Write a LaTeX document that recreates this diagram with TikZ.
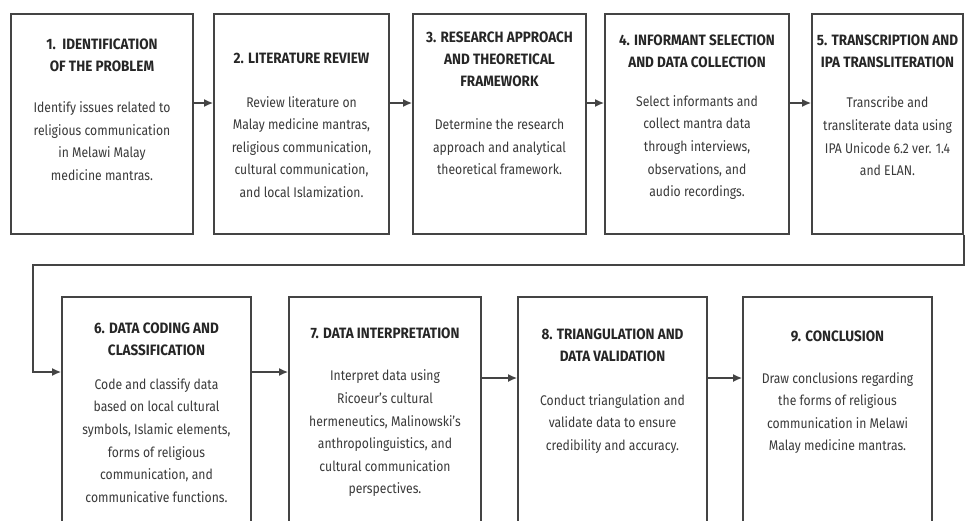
\documentclass[tikz,border=0pt]{standalone}
\usepackage{fontspec}
\setmainfont{Fira Sans}[FakeStretch=0.87]
\newfontfamily\headfont{Fira Sans}[FakeStretch=0.9]
\usetikzlibrary{arrows.meta,calc}
\definecolor{linec}{HTML}{444444}
\definecolor{txtc}{HTML}{3A3A3A}
\definecolor{headc}{HTML}{262626}
\tikzset{
  box/.style={draw=linec, line width=1.6pt, fill=white, inner sep=0pt},
  head/.style={align=center, text=headc, font=\headfont\bfseries\fontsize{15}{22}\selectfont, inner sep=0pt},
  body/.style={align=center, text=txtc, font=\fontsize{14}{22.6}\selectfont, inner sep=0pt},
  arr/.style={draw=linec, line width=1.8pt, -{Latex[length=9pt,width=8pt]}}
}
\begin{document}
\begin{tikzpicture}[x=1pt,y=-1pt]
\useasboundingbox (0,0) rectangle (969,520);
\clip (0,0) rectangle (969,520);
\fill[white] (0,0) rectangle (969,520);
% row 1 boxes
\node[box, minimum width=182pt, minimum height=220pt] (b1) at (102,124) {};
\node[box, minimum width=175pt, minimum height=220pt] (b2) at (301.5,124) {};
\node[box, minimum width=173pt, minimum height=220pt] (b3) at (499.5,124) {};
\node[box, minimum width=184pt, minimum height=220pt] (b4) at (697,124) {};
\node[box, minimum width=151pt, minimum height=220pt] (b5) at (887.5,124) {};
% row 2 boxes
\node[box, minimum width=189pt, minimum height=243pt] (b6) at (156.5,418.5) {};
\node[box, minimum width=192pt, minimum height=243pt] (b7) at (385,418.5) {};
\node[box, minimum width=189pt, minimum height=243pt] (b8) at (612.5,418.5) {};
\node[box, minimum width=189pt, minimum height=243pt] (b9) at (837.5,418.5) {};
% texts
\node[head] (h1) at (102,55.5) {1.\ \ IDENTIFICATION\\OF THE PROBLEM};
\node[body] (d1) at (102,141) {Identify issues related to\\religious communication\\in Melawi Malay\\medicine mantras.};
\node[head] (h2) at (301.5,58) {2. LITERATURE REVIEW};
\node[body] (d2) at (301.5,147) {Review literature on\\Malay medicine mantras,\\religious communication,\\cultural communication,\\and local Islamization.};
\node[head] (h3) at (499.5,59.5) {3. RESEARCH APPROACH\\AND THEORETICAL\\FRAMEWORK};
\node[body] (d3) at (499.5,147) {Determine the research\\approach and analytical\\theoretical framework.};
\node[head] (h4) at (697,51.5) {4. INFORMANT SELECTION\\AND DATA COLLECTION};
\node[body] (d4) at (697,147.5) {Select informants and\\collect mantra data\\through interviews,\\observations, and\\audio recordings.};
\node[head] (h5) at (887.5,51.5) {5. TRANSCRIPTION AND\\IPA TRANSLITERATION};
\node[body] (d5) at (887.5,136.5) {Transcribe and\\transliterate data using\\IPA Unicode 6.2 ver. 1.4\\and ELAN.};
\node[head] (h6) at (156.5,339) {6. DATA CODING AND\\CLASSIFICATION};
\node[body] (d6) at (156.5,440.5) {Code and classify data\\based on local cultural\\symbols, Islamic elements,\\forms of religious\\communication, and\\communicative functions.};
\node[head] (h7) at (385,333) {7. DATA INTERPRETATION};
\node[body] (d7) at (385,433.5) {Interpret data using\\Ricoeur's cultural\\hermeneutics, Malinowski's\\anthropolinguistics, and\\cultural communication\\perspectives.};
\node[head] (h8) at (612.5,345) {8. TRIANGULATION AND\\DATA VALIDATION};
\node[body] (d8) at (612.5,424) {Conduct triangulation and\\validate data to ensure\\credibility and accuracy.};
\node[head] (h9) at (837.5,336) {9. CONCLUSION};
\node[body] (d9) at (837.5,413) {Draw conclusions regarding\\the forms of religious\\communication in Melawi\\Malay medicine mantras.};
% connectors
\draw[arr] ([yshift=21pt]b1.east) -- ([yshift=21pt]b2.west);
\draw[arr] ([yshift=21pt]b2.east) -- ([yshift=21pt]b3.west);
\draw[arr] ([yshift=21pt]b3.east) -- ([yshift=21pt]b4.west);
\draw[arr] ([yshift=21pt]b4.east) -- ([yshift=21pt]b5.west);
\coordinate (c1) at (33,265);
\draw[arr] (b5.south east) |- (c1) |- ([yshift=46.5pt]b6.west);
\draw[arr] ([yshift=46.5pt]b6.east) -- ([yshift=46.5pt]b7.west);
\draw[arr] ([yshift=40.5pt]b7.east) -- ([yshift=40.5pt]b8.west);
\draw[arr] ([yshift=40.5pt]b8.east) -- ([yshift=40.5pt]b9.west);
\end{tikzpicture}
\end{document}
